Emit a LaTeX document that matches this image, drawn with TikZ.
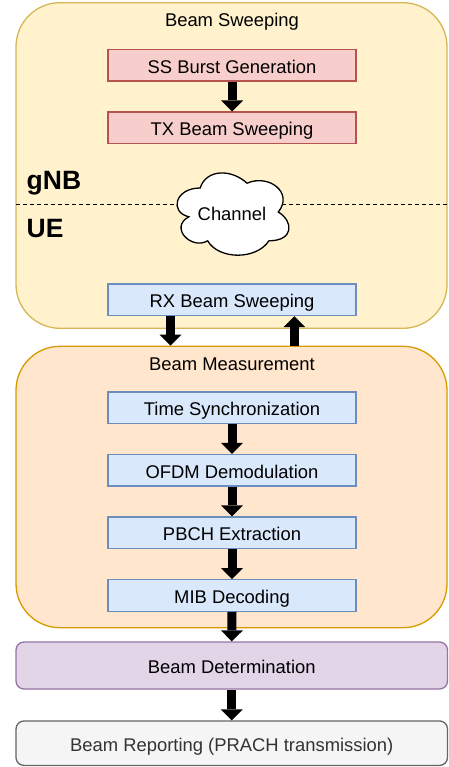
\documentclass[tikz,border=0pt]{standalone}
\usepackage{fontspec}
\setmainfont{Liberation Sans}
\usetikzlibrary{arrows.meta,calc}
\definecolor{bsfill}{HTML}{FFF2CC}
\definecolor{bsline}{HTML}{D6B656}
\definecolor{bmfill}{HTML}{FFE6CC}
\definecolor{bmline}{HTML}{D79B00}
\definecolor{redfill}{HTML}{F8CECC}
\definecolor{redline}{HTML}{B85450}
\definecolor{bluefill}{HTML}{DAE8FC}
\definecolor{blueline}{HTML}{6C8EBF}
\definecolor{bdfill}{HTML}{E1D5E7}
\definecolor{bdline}{HTML}{9673A6}
\definecolor{brfill}{HTML}{F5F5F5}
\definecolor{brline}{HTML}{666666}
\definecolor{brtext}{HTML}{333333}
\begin{document}
\begin{tikzpicture}[x=1pt,y=-1pt,
  every node/.style={font=\fontsize{18.4}{22}\selectfont, inner sep=0pt},
  group/.style={draw, line width=1.3pt, rounded corners=44pt, minimum width=431pt},
  stepbox/.style={draw, line width=1.3pt, minimum width=248pt, minimum height=31.5pt, text height=16pt, text depth=0pt},
  redbox/.style={stepbox, fill=redfill, draw=redline},
  bluebox/.style={stepbox, fill=bluefill, draw=blueline},
  widebox/.style={draw, line width=1.3pt, rounded corners=8pt, minimum width=431.5pt, text height=16pt, text depth=0pt},
  blockarrow/.style={line width=9pt, -{Triangle[width=22pt,length=11pt,line width=0pt]}},
  side/.style={font=\fontsize{26.5}{30}\selectfont\bfseries, anchor=base west},
  grouptitle/.style={anchor=base},
  sepline/.style={dash pattern=on 4pt off 3pt, line width=1pt},
  cloudshape/.style={draw=black, fill=white, line width=1.3pt}
]
\useasboundingbox (0,0) rectangle (448,767);

% Beam Sweeping group
\node[group, fill=bsfill, draw=bsline, minimum height=325.6pt] (BS) at (231.5,165.5) {};
\node[grouptitle] (BStitle) at (232,26.5) {Beam Sweeping};

\coordinate (dl) at (16,204.3);
\coordinate (dr) at (448,204.3);
\draw[sepline] (dl) -- (dr);

\node[redbox] (SS) at (232,65.2) {SS Burst Generation};
\node[redbox] (TX) at (232,127.9) {TX Beam Sweeping};

\node[side] (gnb) at (26.5,189.5) {gNB};
\node[side] (ue) at (26.5,237.5) {UE};

\begin{scope}[shift={(168.9,164)}, x=125pt, y=-96pt]
\path[cloudshape] (0.25,0.25) .. controls (0.05,0.25) and (0,0.5) .. (0.16,0.55)
  .. controls (0,0.66) and (0.18,0.9) .. (0.31,0.8)
  .. controls (0.4,1) and (0.7,1) .. (0.8,0.8)
  .. controls (1,0.8) and (1,0.6) .. (0.875,0.5)
  .. controls (1,0.3) and (0.8,0.1) .. (0.625,0.2)
  .. controls (0.5,0.05) and (0.3,0.05) .. (0.25,0.25) -- cycle;
\end{scope}
\node[anchor=base] (ch) at (232,220) {Channel};

\node[bluebox] (RX) at (232,299.8) {RX Beam Sweeping};

% Beam Measurement group
\node[group, fill=bmfill, draw=bmline, minimum height=281.4pt] (BM) at (231.5,487) {};
\node[grouptitle] (BMtitle) at (232,370.7) {Beam Measurement};

\node[bluebox] (TS) at (232,407.7) {Time Synchronization};
\node[bluebox] (OF) at (232,470.3) {OFDM Demodulation};
\node[bluebox] (PB) at (232,532.8) {PBCH Extraction};
\node[bluebox] (MIB) at (232,595.5) {MIB Decoding};

\node[widebox, fill=bdfill, draw=bdline, minimum height=47pt] (BD) at (231.75,665.5) {Beam Determination};
\node[widebox, fill=brfill, draw=brline, text=brtext, minimum height=44.5pt] (BR) at (231.75,743.2) {Beam Reporting (PRACH transmission)};

% arrows
\draw[blockarrow] (SS.south) -- (TX.north);
\coordinate (rxd) at ($(RX.south west)!0.253!(RX.south east)$);
\coordinate (rxu) at ($(RX.south west)!0.75!(RX.south east)$);
\draw[blockarrow] (rxd) -- (rxd |- BM.north);
\draw[blockarrow] (rxu |- BM.north) -- (rxu);
\draw[blockarrow] (TS.south) -- (OF.north);
\draw[blockarrow] (OF.south) -- (PB.north);
\draw[blockarrow] (PB.south) -- (MIB.north);
\draw[blockarrow] (MIB.south) -- (BD.north);
\draw[blockarrow] (BD.south) -- (BR.north);
\end{tikzpicture}
\end{document}
